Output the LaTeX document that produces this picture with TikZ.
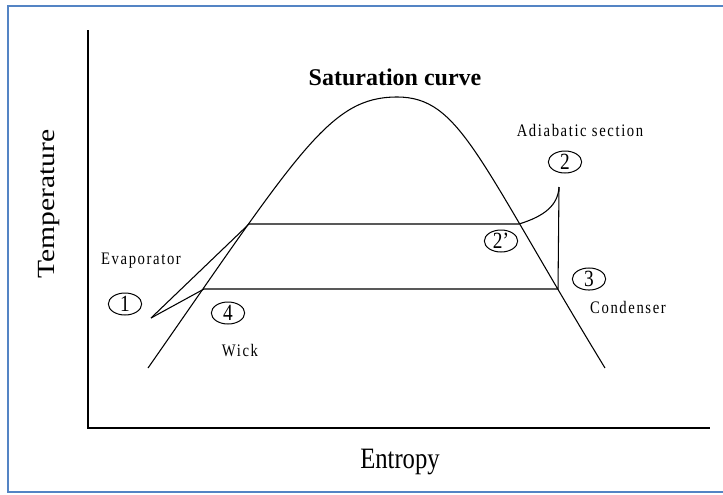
\documentclass[tikz,border=0pt]{standalone}
\usepackage{fontspec}
\usepackage{graphicx}
\setmainfont{Liberation Serif}
\newfontfamily\spacedfont[LetterSpace=11]{Liberation Serif}
\usetikzlibrary{shapes.geometric}
\definecolor{frameblue}{RGB}{84,132,196}
\newcommand{\tallbox}[1]{\scalebox{1}[1.2]{#1}}

\begin{document}
\begin{tikzpicture}[
  x=0.75pt, y=-0.75pt,
  thin line/.style={line width=0.8pt},
  statept/.style={draw, ellipse, line width=0.75pt, inner sep=0pt, minimum width=25pt, minimum height=16.5pt, font=\fontsize{14.5}{16}\selectfont},
  smalltext/.style={font=\spacedfont\fontsize{11}{13}\selectfont},
  axistext/.style={font=\fontsize{18.5}{22}\selectfont}
]
\useasboundingbox (0,0) rectangle (723,494);
\draw[frameblue, line width=1.5pt] (723,5.5) -- (7.5,5.5) -- (7.5,492) -- (723,492);

\coordinate (ytop) at (88,30);
\coordinate (origin) at (88,428);
\coordinate (xend) at (710,428);
\draw[line width=0.9pt] (ytop) -- (origin) -- (xend);

\coordinate (satl) at (148,368);
\coordinate (satpeak) at (397,97);
\coordinate (satr) at (605,368);
\draw[thin line] (satl) .. controls (300,150) and (330,97) .. (satpeak)
  .. controls (460,97) and (477,158) .. (satr);

\coordinate (p1) at (151,318);
\coordinate (p2) at (559,187);
\coordinate (p2s) at (519,224);
\coordinate (p3) at (558,289);
\coordinate (p4) at (204,289);
\coordinate (p5) at (249,224);
\draw[thin line] (p1) -- (p5) -- (p2s);
\draw[thin line] (p1) -- (p4) -- (p3) -- (p2);
\draw[thin line] (p2s) .. controls (545,216) and (558,205) .. (p2);

\node[statept] (n1) at (125,304) {\tallbox{1}};
\node[statept] (n4) at (228,313) {\tallbox{4}};
\node[statept] (n2) at (565,162) {\tallbox{2}};
\node[statept] (n2s) at (501,241) {\tallbox{2'}};
\node[statept] (n3) at (589,279) {\tallbox{3}};

\node[font=\bfseries\fontsize{18}{20}\selectfont] (satlbl) at (395,77) {Saturation curve};
\node[smalltext] (adlbl) at (580,130) {\tallbox{Adiabatic section}};
\node[smalltext] (evlbl) at (141,261) {\tallbox{Evaporator}};
\node[smalltext] (wklbl) at (240,351) {\tallbox{Wick}};
\node[smalltext] (cdlbl) at (628,307) {\tallbox{Condenser}};

\node[axistext, rotate=90, anchor=base] (ylbl) at (54,204) {\scalebox{1.2}[1]{Temperature}};
\node[axistext, anchor=base] (xlbl) at (400,468) {\tallbox{Entropy}};
\end{tikzpicture}
\end{document}
